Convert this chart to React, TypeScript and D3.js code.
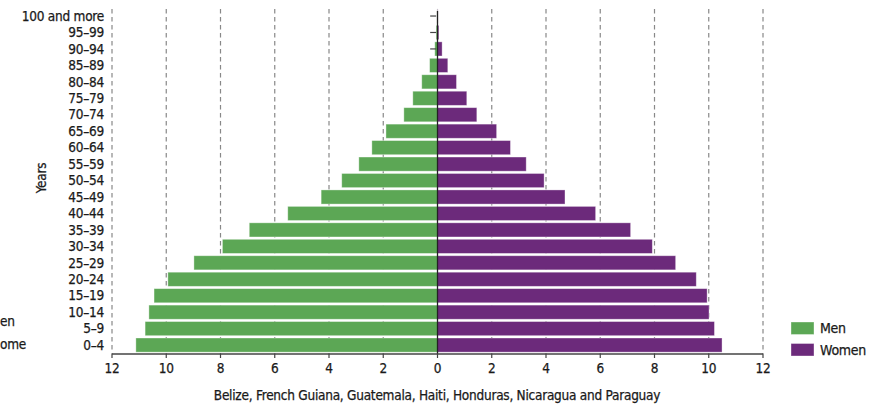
import React from "react";
import * as d3 from "d3";

const ageGroups = [
  "100 and more", "95–99", "90–94", "85–89", "80–84", "75–79", "70–74",
  "65–69", "60–64", "55–59", "50–54", "45–49", "40–44", "35–39",
  "30–34", "25–29", "20–24", "15–19", "10–14", "5–9", "0–4",
];
const menValues = [
  0.02, 0.05, 0.1, 0.29, 0.58, 0.91, 1.24, 1.9, 2.42, 2.9, 3.53, 4.29,
  5.52, 6.94, 7.93, 8.98, 9.94, 10.45, 10.64, 10.78, 11.12,
];
const womenValues = [
  0.02, 0.05, 0.17, 0.38, 0.7, 1.08, 1.45, 2.18, 2.69, 3.27, 3.93, 4.7,
  5.83, 7.12, 7.92, 8.78, 9.54, 9.94, 10.01, 10.21, 10.49,
];
const markedGroups = ["100 and more", "95–99", "90–94"];
const xTicks = [-12, -10, -8, -6, -4, -2, 0, 2, 4, 6, 8, 10, 12];
const seriesNames = ["Men", "Women"];
const seriesColors = ["#5ca755", "#6c2a7b"];
const xTitle = "Belize, French Guiana, Guatemala, Haiti, Honduras, Nicaragua and Paraguay";
const yTitle = "Years";
const clippedLabels = ["en", "ome"];

const FONT = "'DejaVu Sans Condensed', 'Liberation Sans Narrow', sans-serif";
const TXT = { fill: "#1a1a1a", stroke: "#1a1a1a", strokeWidth: 0.25, letterSpacing: -0.25 };

export default function App() {
  const W = 869, H = 408;
  const x = d3.scaleLinear().domain([-12, 12]).range([112, 763]);
  const y = d3.scaleBand<string>().domain(ageGroups).range([7.8, 353.3]).paddingInner(0.14).paddingOuter(0.07);
  const axisY = 354;
  const gridTop = 9;
  const bw = y.bandwidth();

  return (
    <svg width={W} height={H} style={{ position: "absolute", left: 0, top: 0, background: "#fff" }} fontFamily={FONT}>
      {/* grid lines */}
      {xTicks.filter((t) => t !== 0).map((t) => (
        <line key={"g" + t} x1={x(t)} x2={x(t)} y1={gridTop} y2={axisY} stroke="#888" strokeWidth={1.2} strokeDasharray="4.5 3.5" />
      ))}
      {/* men bars */}
      {ageGroups.map((g, i) => (
        <rect key={"m" + g} x={x(-menValues[i])} y={y(g)} width={x(0) - x(-menValues[i])} height={bw}
          fill={seriesColors[0]} stroke="#ffffff" strokeOpacity={0.45} strokeWidth={0.8} />
      ))}
      {/* women bars */}
      {ageGroups.map((g, i) => (
        <rect key={"w" + g} x={x(0)} y={y(g)} width={x(womenValues[i]) - x(0)} height={bw}
          fill={seriesColors[1]} stroke="#ffffff" strokeOpacity={0.45} strokeWidth={0.8} />
      ))}
      {/* small marks near centre for tiny groups */}
      {markedGroups.map((g) => (
        <line key={"k" + g} x1={x(-0.27)} x2={x(-0.05)} y1={(y(g) as number) + bw / 2} y2={(y(g) as number) + bw / 2} stroke="#444" strokeWidth={1.2} />
      ))}
      {/* zero line */}
      <line x1={x(0)} x2={x(0)} y1={gridTop + 2} y2={axisY} stroke="#222" strokeWidth={1.3} />
      {/* x axis */}
      <line x1={x(-12)} x2={x(12)} y1={axisY} y2={axisY} stroke="#444" strokeWidth={1.3} />
      {xTicks.map((t) => (
        <g key={"t" + t}>
          <line x1={x(t)} x2={x(t)} y1={axisY} y2={axisY + 4} stroke="#444" strokeWidth={1.2} />
          <text x={x(t)} y={axisY + 19} textAnchor="middle" fontSize={13.5} {...TXT}>{Math.abs(t)}</text>
        </g>
      ))}
      <text x={437} y={400} textAnchor="middle" fontSize={13.5} {...TXT}>{xTitle}</text>
      {/* y labels */}
      {ageGroups.map((g) => (
        <text key={"l" + g} x={104} y={(y(g) as number) + bw / 2} dy="0.35em" textAnchor="end" fontSize={13.5} {...TXT}>{g}</text>
      ))}
      <text transform={`translate(46,178) rotate(-90)`} textAnchor="middle" fontSize={13.5} {...TXT}>{yTitle}</text>
      {/* clipped labels at left edge */}
      <text x={0} y={326} fontSize={13.5} {...TXT}>{clippedLabels[0]}</text>
      <text x={0} y={349} fontSize={13.5} {...TXT}>{clippedLabels[1]}</text>
      {/* legend */}
      {seriesNames.map((s, i) => (
        <g key={"lg" + s} transform={`translate(791,${322 + i * 21.5})`}>
          <rect x={0} y={0} width={23} height={12.5} fill={seriesColors[i]} stroke="#ffffff" strokeOpacity={0.45} strokeWidth={0.8} />
          <text x={29} y={6.5} dy="0.35em" fontSize={14} {...TXT}>{s}</text>
        </g>
      ))}
    </svg>
  );
}
